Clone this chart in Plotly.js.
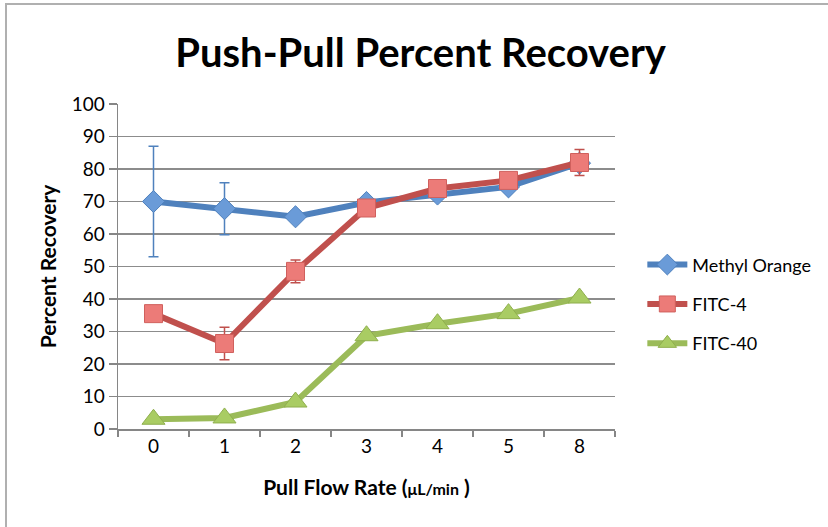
<!DOCTYPE html>
<html>
<head>
<meta charset="utf-8">
<script src="https://cdn.plot.ly/plotly-3.0.1.min.js"></script>
<style>
  html, body { margin: 0; padding: 0; background: #fff; }
  #wrap { position: relative; width: 828px; height: 527px; overflow: hidden; }
  #frame { position: absolute; left: 5px; top: 3px; width: 900px; height: 600px;
           border-top: 2px solid #b0b0b0; border-left: 2px solid #b0b0b0; pointer-events: none; }
  #chart { position: absolute; left: 0; top: 0; width: 828px; height: 527px; }
</style>
</head>
<body>
<div id="wrap">
  <div id="chart"></div>
  <div id="frame"></div>
</div>
<script>
// Data
const categories = ['0', '1', '2', '3', '4', '5', '8'];
const methylOrange = [70, 67.8, 65.3, 69.7, 72.3, 74.5, 81.8];
const methylOrangeErr = [17, 8, 0, 0, 0, 0, 0];
const fitc4 = [35.5, 26.3, 48.5, 68, 74, 76.5, 82];
const fitc4Err = [0, 5, 3.5, 0, 0, 1, 4];
const fitc40 = [3, 3.4, 8.3, 28.7, 32.4, 35.5, 40.3];
const seriesNames = ['Methyl Orange', 'FITC-4', 'FITC-40'];

const FONT = 'Lato, "Open Sans", sans-serif';

const traces = [
  {
    x: categories, y: methylOrange, name: seriesNames[0], type: 'scatter', mode: 'lines+markers',
    line: {color: '#4F81BD', width: 6},
    marker: {symbol: 'diamond', size: 17, color: '#6A9BD8', line: {color: '#4F81BD', width: 1}},
    error_y: {type: 'data', array: methylOrangeErr, visible: true, color: '#4F81BD', thickness: 1.5, width: 5},
    legendgroup: 'a'
  },
  {
    x: categories, y: fitc4, name: seriesNames[1], type: 'scatter', mode: 'lines+markers',
    line: {color: '#C0504D', width: 6},
    marker: {symbol: 'square', size: 18, color: '#EC7B78', line: {color: '#D0605D', width: 1}},
    error_y: {type: 'data', array: fitc4Err, visible: true, color: '#C0504D', thickness: 1.5, width: 5},
    legendgroup: 'b'
  },
  {
    x: categories, y: fitc40, name: seriesNames[2], type: 'scatter', mode: 'lines+markers',
    line: {color: '#9BBB59', width: 6},
    marker: {symbol: 'triangle-up', size: 20, color: '#A9CC63', line: {color: '#8FAF4D', width: 1}},
    legendgroup: 'c'
  }
];

const layout = {
  width: 828, height: 527,
  margin: {l: 118, r: 213, t: 104, b: 98},
  paper_bgcolor: '#ffffff', plot_bgcolor: '#ffffff',
  font: {family: FONT, size: 18, color: '#000'},
  title: {
    text: '<b>Push-Pull Percent Recovery</b>',
    font: {family: FONT, size: 40, color: '#000'},
    x: 0.508, xanchor: 'center', y: 0.9, yanchor: 'middle'
  },
  xaxis: {
    type: 'category', range: [-0.5, 6.5],
    showline: true, linecolor: '#868686', linewidth: 1.5,
    showgrid: false, zeroline: false,
    ticks: 'outside', ticklen: 6, tickcolor: '#868686', tickwidth: 1.5, tickson: 'boundaries',
    tickfont: {family: FONT, size: 19, color: '#000'},
    title: {text: '<b>Pull Flow Rate (</b><b style="font-size:16px">μL/min</b><b> )</b>', font: {family: FONT, size: 21, color: '#000'}, standoff: 24}
  },
  yaxis: {
    range: [0, 100], dtick: 10,
    showline: true, linecolor: '#868686', linewidth: 1.5,
    showgrid: true, gridcolor: '#8c8c8c', gridwidth: 1.3, zeroline: false,
    ticks: 'outside', ticklen: 8, tickcolor: '#868686', tickwidth: 1.5,
    tickfont: {family: FONT, size: 19, color: '#000'},
    title: {text: '<b>Percent Recovery</b>', font: {family: FONT, size: 21, color: '#000'}, standoff: 9}
  },
  showlegend: true,
  legend: {
    x: 1.055, xanchor: 'left', y: 0.562, yanchor: 'top',
    traceorder: 'grouped', tracegroupgap: 13,
    font: {family: FONT, size: 18, color: '#000'},
    bgcolor: 'rgba(0,0,0,0)', itemwidth: 40
  }
};

Plotly.newPlot('chart', traces, layout, {displayModeBar: false, staticPlot: true});
</script>
</body>
</html>
